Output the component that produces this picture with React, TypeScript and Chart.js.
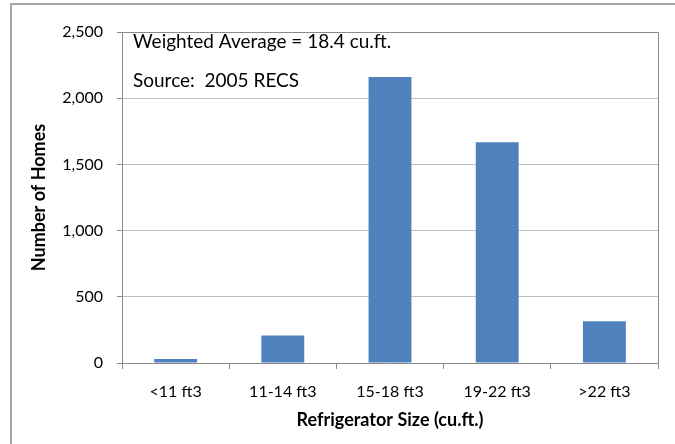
import React, { useEffect, useRef } from "react";
import { Chart, registerables } from "chart.js";

Chart.register(...registerables);

const categories = ["<11 ft3", "11-14 ft3", "15-18 ft3", "19-22 ft3", ">22 ft3"];
const homes = [30, 208, 2160, 1668, 315];
const yTicks = [0, 500, 1000, 1500, 2000, 2500];
const noteLines = ["Weighted Average = 18.4 cu.ft.", "Source:  2005 RECS"];
const xTitle = "Refrigerator Size (cu.ft.)";
const yTitle = "Number of Homes";

const FONT = "Lato, 'Open Sans', sans-serif";

const framePlugin = {
  id: "frame",
  beforeDraw(chart: any) {
    const ctx = chart.ctx;
    ctx.save();
    ctx.fillStyle = "#ffffff";
    ctx.fillRect(0, 0, chart.width, chart.height);
    ctx.strokeStyle = "#8a8a8a";
    ctx.lineWidth = 1.5;
    ctx.strokeRect(11, 4, chart.width + 20, chart.height + 20);
    ctx.restore();
  },
  afterDraw(chart: any) {
    const { ctx, chartArea } = chart;
    ctx.save();
    ctx.strokeStyle = "#8a8a8a";
    ctx.lineWidth = 1;
    ctx.beginPath();
    ctx.moveTo(chartArea.left, chartArea.top + 0.5);
    ctx.lineTo(chartArea.right + 0.5, chartArea.top + 0.5);
    ctx.lineTo(chartArea.right + 0.5, chartArea.bottom);
    ctx.stroke();
    ctx.fillStyle = "#000000";
    ctx.font = `19px ${FONT}`;
    ctx.textBaseline = "alphabetic";
    ctx.textAlign = "left";
    ctx.fillText(noteLines[0], chartArea.left + 11, chartArea.top + 16);
    ctx.fillText(noteLines[1], chartArea.left + 11, chartArea.top + 55);
    ctx.restore();
  },
};

export default function App() {
  const ref = useRef<HTMLCanvasElement | null>(null);
  useEffect(() => {
    if (!ref.current) return;
    const chart = new Chart(ref.current, {
      type: "bar",
      data: {
        labels: categories,
        datasets: [
          {
            data: homes,
            backgroundColor: "#4f81bd",
            borderWidth: 0,
            categoryPercentage: 1,
            barPercentage: 0.4,
          },
        ],
      },
      options: {
        animation: false,
        responsive: true,
        maintainAspectRatio: false,
        layout: { padding: { left: 20, top: 32, right: 17, bottom: 10 } },
        plugins: { legend: { display: false }, tooltip: { enabled: false } },
        scales: {
          x: {
            grid: {
              drawOnChartArea: false,
              drawTicks: true,
              tickLength: 6,
              color: "#8a8a8a",
              offset: true,
            },
            border: { color: "#8a8a8a" },
            ticks: {
              color: "#000",
              font: { family: FONT, size: 16 },
              padding: 13,
              maxRotation: 0,
            },
            title: {
              display: true,
              text: xTitle,
              color: "#000",
              font: { family: FONT, size: 18, weight: "bold" },
              padding: { top: 0, bottom: 3 },
            },
            afterFit(scale: any) {
              scale.height = 71;
            },
          },
          y: {
            min: 0,
            max: 2500,
            afterBuildTicks(scale: any) {
              scale.ticks = yTicks.map((v) => ({ value: v }));
            },
            grid: {
              color: "#bfbfbf",
              tickLength: 5,
              tickColor: "#8a8a8a",
            },
            border: { color: "#8a8a8a" },
            ticks: {
              color: "#000",
              font: { family: FONT, size: 16 },
              padding: 14,
              callback: (v: any) => Number(v).toLocaleString("en-US"),
            },
            title: {
              display: true,
              text: yTitle,
              color: "#000",
              font: { family: FONT, size: 18, weight: "bold" },
              padding: { top: 8, bottom: 0 },
            },
            afterFit(scale: any) {
              scale.width = 102;
            },
          },
        },
      },
      plugins: [framePlugin],
    });
    return () => chart.destroy();
  }, []);
  return (
    <div style={{ position: "fixed", left: 0, top: 0, width: 675, height: 444 }}>
      <canvas ref={ref} />
    </div>
  );
}
